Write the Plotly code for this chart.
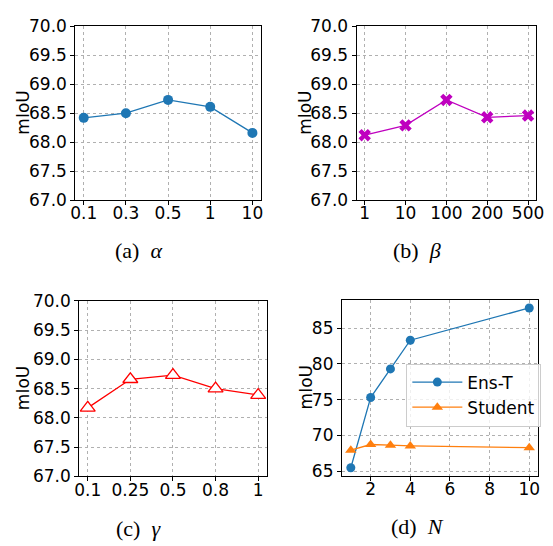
import plotly.graph_objects as go

# ---- data ----
alpha_labels = ["0.1", "0.3", "0.5", "1", "10"]
alpha_miou = [68.42, 68.50, 68.73, 68.61, 68.16]

beta_labels = ["1", "10", "100", "200", "500"]
beta_miou = [68.12, 68.29, 68.73, 68.43, 68.46]

gamma_labels = ["0.1", "0.25", "0.5", "0.8", "1"]
gamma_miou = [68.17, 68.66, 68.73, 68.50, 68.39]

n_values = [1, 2, 3, 4, 10]
ens_t_miou = [65.5, 75.3, 79.3, 83.3, 87.8]
student_miou = [67.95, 68.75, 68.65, 68.55, 68.3]

W, H = 553, 546
FONT = "DejaVu Sans"
SERIF = "Liberation Serif"

def px_dom_x(a, b):
    return [a / W, b / W]

def px_dom_y(top, bottom):
    return [1 - bottom / H, 1 - top / H]

fig = go.Figure()

# panel (a)
fig.add_trace(go.Scatter(x=list(range(5)), y=alpha_miou, mode="lines+markers",
                         line=dict(color="#1f77b4", width=1.3),
                         marker=dict(symbol="circle", size=10, color="#1f77b4"),
                         xaxis="x", yaxis="y", showlegend=False))
# panel (b)
fig.add_trace(go.Scatter(x=list(range(5)), y=beta_miou, mode="lines+markers",
                         line=dict(color="#bf00bf", width=1.3),
                         marker=dict(symbol="x", size=11, color="#bf00bf"),
                         xaxis="x2", yaxis="y2", showlegend=False))
# panel (c)
fig.add_trace(go.Scatter(x=list(range(5)), y=gamma_miou, mode="lines+markers",
                         line=dict(color="#ff0000", width=1.3),
                         marker=dict(symbol="triangle-up", size=13, color="white",
                                     line=dict(color="#ff0000", width=1.3)),
                         xaxis="x3", yaxis="y3", showlegend=False))
# panel (d)
fig.add_trace(go.Scatter(x=n_values, y=ens_t_miou, mode="lines+markers", name="Ens-T",
                         line=dict(color="#1f77b4", width=1.3),
                         marker=dict(symbol="circle", size=9, color="#1f77b4"),
                         xaxis="x4", yaxis="y4"))
fig.add_trace(go.Scatter(x=n_values, y=student_miou, mode="lines+markers", name="Student",
                         line=dict(color="#ff7f0e", width=1.3),
                         marker=dict(symbol="triangle-up", size=10, color="#ff7f0e"),
                         xaxis="x4", yaxis="y4"))

common = dict(showline=True, mirror=True, linecolor="black", linewidth=1,
              ticks="outside", ticklen=4, tickcolor="black", tickwidth=1,
              showgrid=True, gridcolor="#b0b0b0", gridwidth=0.8, griddash="dot",
              zeroline=False, tickfont=dict(family=FONT, size=17, color="black"))

domains = {
    "a": (px_dom_x(72, 262), px_dom_y(17, 197.3)),
    "b": (px_dom_x(360, 544), px_dom_y(17, 197.3)),
    "c": (px_dom_x(76, 268), px_dom_y(302, 484)),
    "d": (px_dom_x(345, 546), px_dom_y(301, 483.5)),
}

cat_labels = [alpha_labels, beta_labels, gamma_labels]
keys = ["a", "b", "c"]
layout = dict(width=W, height=H, margin=dict(l=0, r=0, t=0, b=0),
              paper_bgcolor="white", plot_bgcolor="white",
              font=dict(family=FONT, size=17, color="black"))
for i, k in enumerate(keys):
    sfx = "" if i == 0 else str(i + 1)
    dx, dy = domains[k]
    layout["xaxis" + sfx] = dict(common, domain=dx, anchor="y" + sfx, range=[-0.2, 4.2],
                                 tickmode="array", tickvals=list(range(5)),
                                 ticktext=cat_labels[i], ticklabelstandoff=-6)
    layout["yaxis" + sfx] = dict(common, domain=dy, anchor="x" + sfx, range=[67, 70],
                                 tickmode="array", tickvals=[67, 67.5, 68, 68.5, 69, 69.5, 70],
                                 tickformat=".1f")
dx, dy = domains["d"]
layout["xaxis4"] = dict(common, domain=dx, anchor="y4", range=[0.55, 10.45],
                        tickmode="array", tickvals=[2, 4, 6, 8, 10], ticklabelstandoff=-6)
layout["yaxis4"] = dict(common, domain=dy, anchor="x4", range=[64.385, 88.915],
                        tickmode="array", tickvals=[65, 70, 75, 80, 85])

layout["legend"] = dict(x=411 / W, y=1 - 367 / H, xanchor="left", yanchor="top",
                        bgcolor="rgba(255,255,255,0.8)", bordercolor="#cccccc", borderwidth=1,
                        font=dict(family=FONT, size=17, color="black"),
                        itemwidth=50, tracegroupgap=2)

fig.update_layout(**layout)

# y axis titles
ylab_x = {"a": 19, "b": 307, "c": 18, "d": 308}
ylab_y = {"a": 107, "b": 107, "c": 393, "d": 392}
for k in ["a", "b", "c", "d"]:
    fig.add_annotation(text="mIoU", x=ylab_x[k] / W, y=1 - ylab_y[k] / H,
                       xref="paper", yref="paper", textangle=-90, showarrow=False,
                       xanchor="center", yanchor="middle",
                       font=dict(family=FONT, size=17, color="black"))

# captions
captions = ["(a)  <i>α</i>", "(b)  <i>β</i>", "(c)  <i>γ</i>", "(d)  <i>N</i>"]
cap_pos = [(137, 250), (422, 250), (137, 538), (422, 536)]
for txt, (cx, cy) in zip(captions, cap_pos):
    fig.add_annotation(text=txt, x=cx / W, y=1 - cy / H, xref="paper", yref="paper",
                       showarrow=False, xanchor="center", yanchor="middle",
                       font=dict(family=SERIF, size=22, color="black"))

fig.write_html("out.html", config={"displayModeBar": False},
               post_script="document.body.style.margin='0';document.body.style.overflow='hidden';")
